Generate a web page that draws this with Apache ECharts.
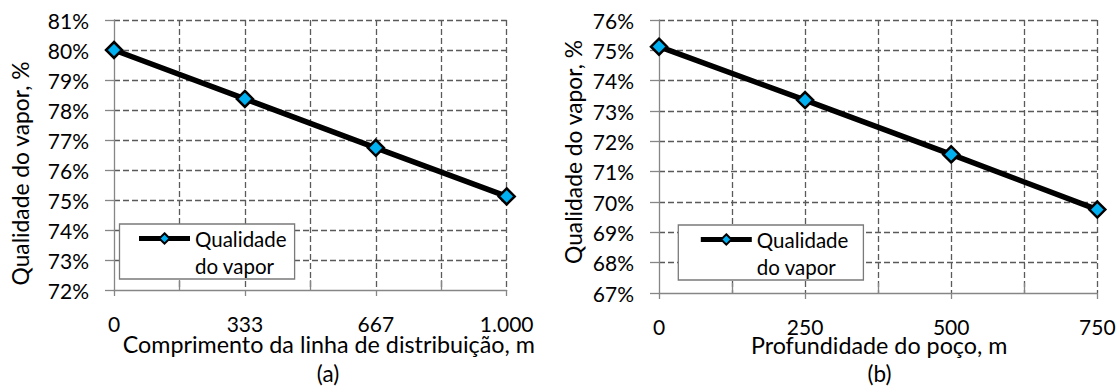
<!DOCTYPE html>
<html><head><meta charset="utf-8">
<script src="https://cdn.jsdelivr.net/npm/echarts@6/dist/echarts.min.js"></script>
<style>html,body{margin:0;padding:0;background:#fff}#c{width:1119px;height:387px}</style>
</head><body><div id="c"></div>
<script>
// ---- data ----
const distanceA = [0, 333.33, 666.67, 1000];
const qualityA = [80.00, 78.37, 76.74, 75.12];
const depthB = [0, 250, 500, 750];
const qualityB = [75.12, 73.36, 71.57, 69.75];
const xTickLabelsA = ['0', '333', '667', '1.000'];
const xTickLabelsB = ['0', '250', '500', '750'];
const yRangeA = [72, 81];
const yRangeB = [67, 76];
const xRangeA = [0, 1000];
const xRangeB = [0, 750];
const seriesName = 'Qualidade do vapor';
const legendLines = ['Qualidade', 'do vapor'];
const xNameA = 'Comprimento da linha de distribuição, m';
const xNameB = 'Profundidade do poço, m';
const yName = 'Qualidade do vapor, %';
const panelLabels = ['(a)', '(b)'];

// ---- styles ----
const FONT = 'Lato, "Open Sans", sans-serif';
const AX = '#868686';
const GRID = '#5a5a5a';
const gridLine = { color: GRID, type: [6, 3], width: 1.3 };

function makeX(gi, range, labels, name, gap, namePad) {
  const step = (range[1] - range[0]) / (labels.length - 1);
  return {
    type: 'value', gridIndex: gi, min: range[0], max: range[1], interval: step,
    axisLine: { show: true, onZero: false, lineStyle: { color: AX, width: 1.3 } },
    axisTick: { show: true, length: 6, lineStyle: { color: AX, width: 1.3 } },
    minorTick: { show: true, splitNumber: 2, length: -10, lineStyle: { color: AX, width: 1.3 } },
    splitLine: { show: true, showMinLine: false, lineStyle: gridLine },
    minorSplitLine: { show: true, lineStyle: gridLine },
    axisLabel: {
      margin: 23, fontFamily: FONT, fontSize: 21, lineHeight: 20, color: '#000',
      formatter: v => labels[Math.round((v - range[0]) / step)]
    },
    name: name, nameLocation: 'middle', nameGap: gap, nameMoveOverlap: false,
    nameTextStyle: { fontFamily: FONT, fontSize: 23.3, lineHeight: 22, color: '#000', padding: namePad }
  };
}
function makeY(gi, range, gap, namePad) {
  return {
    type: 'value', gridIndex: gi, min: range[0], max: range[1], interval: 1,
    axisLine: { show: true, lineStyle: { color: AX, width: 1.3 } },
    axisTick: { show: true, length: 9, lineStyle: { color: AX, width: 1.3 } },
    splitLine: { show: true, showMinLine: false, lineStyle: gridLine },
    axisLabel: { margin: 25, fontFamily: FONT, fontSize: 21, color: '#000', formatter: '{value}%' },
    name: yName, nameLocation: 'middle', nameGap: gap, nameMoveOverlap: false,
    nameTextStyle: { fontFamily: FONT, fontSize: 22.8, color: '#000', padding: namePad }
  };
}
function makeSeries(gi, xs, ys) {
  return {
    type: 'line', name: seriesName, xAxisIndex: gi, yAxisIndex: gi,
    data: xs.map((x, i) => [x, ys[i]]),
    symbol: 'diamond', symbolSize: 16,
    lineStyle: { color: '#000', width: 5.5 },
    itemStyle: { color: '#00B0F0', borderColor: '#000', borderWidth: 2.5 },
    animation: false
  };
}
function makeLegend(left, top, pad) {
  return {
    left: left, top: top, orient: 'vertical', data: [seriesName],
    // an empty first line keeps the icon level with the first text line
    formatter: () => ' \n' + legendLines.join('\n'),
    itemWidth: 51, itemHeight: 13, itemGap: 0,
    lineStyle: { width: 5, color: '#000' },
    itemStyle: { borderWidth: 2 },
    textStyle: { fontFamily: FONT, fontSize: 20.5, lineHeight: 27, color: '#000' },
    padding: pad, borderColor: '#7a7a7a', borderWidth: 1.3, backgroundColor: '#fff',
    selectedMode: false
  };
}

const chart = echarts.init(document.getElementById('c'), null, { renderer: 'svg' });
chart.setOption({
  animation: false,
  backgroundColor: '#fff',
  grid: [
    { left: 114, top: 20, width: 392.7, height: 270 },
    { left: 659, top: 20, width: 438.3, height: 273 }
  ],
  xAxis: [
    makeX(0, xRangeA, xTickLabelsA, xNameA, 43, [0, 0, 0, 37]),
    makeX(1, xRangeB, xTickLabelsB, xNameB, 41, [0, 0, 0, 2])
  ],
  yAxis: [
    makeY(0, yRangeA, 83, [0, 37, 0, 0]),
    makeY(1, yRangeB, 75, [0, 0, 0, 9])
  ],
  legend: [
    makeLegend(119.5, 224, [-26, 8, 0, 17]),
    makeLegend(678.3, 225, [-26, 15, 0, 20])
  ],
  series: [
    makeSeries(0, distanceA, qualityA),
    makeSeries(1, depthB, qualityB)
  ],
  graphic: [
    { type: 'text', x: 328, y: 373, style: { text: panelLabels[0], font: '22.5px ' + FONT, fill: '#000', align: 'center', verticalAlign: 'middle' } },
    { type: 'text', x: 879.5, y: 373, style: { text: panelLabels[1], font: '22.5px ' + FONT, fill: '#000', align: 'center', verticalAlign: 'middle' } }
  ]
});
</script></body></html>
